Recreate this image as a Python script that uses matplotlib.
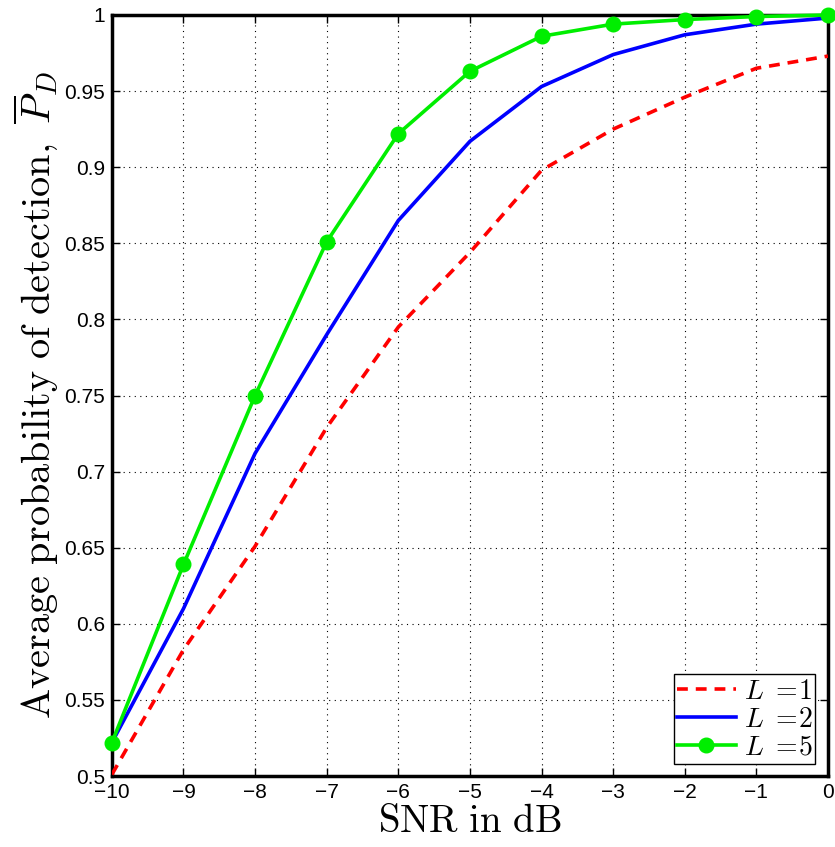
import matplotlib
matplotlib.use("Agg")
import matplotlib.pyplot as plt
import numpy as np

snr = [-10, -9, -8, -7, -6, -5, -4, -3, -2, -1, 0]
pd_L1 = [0.501, 0.583, 0.651, 0.729, 0.795, 0.844, 0.898, 0.925, 0.946, 0.965, 0.973]
pd_L2 = [0.522, 0.610, 0.712, 0.790, 0.865, 0.917, 0.953, 0.974, 0.987, 0.994, 0.998]
pd_L5 = [0.522, 0.639, 0.750, 0.851, 0.922, 0.963, 0.986, 0.994, 0.997, 0.999, 1.000]
xticks = list(range(-10, 1))
yticks = [0.5, 0.55, 0.6, 0.65, 0.7, 0.75, 0.8, 0.85, 0.9, 0.95, 1.0]
ytick_labels = ['0.5', '0.55', '0.6', '0.65', '0.7', '0.75', '0.8', '0.85', '0.9', '0.95', '1']

plt.rcParams['mathtext.fontset'] = 'cm'
fig = plt.figure(figsize=(8.35, 8.47), dpi=100)
ax = fig.add_axes([0.134, 0.0838, 0.8576, 0.8985])

ax.plot(snr, pd_L1, color='#ff0000', lw=2.6, ls=(0, (3, 2.2)), label=r'$L\ =\!1$', zorder=3)
ax.plot(snr, pd_L2, color='#0000ff', lw=2.6, label=r'$L\ =\!2$', zorder=3)
ax.plot(snr, pd_L5, color='#00ee00', lw=2.6, marker='o', markersize=10.5, label=r'$L\ =\!5$', zorder=4, clip_on=False)

ax.set_xlim(-10, 0)
ax.set_ylim(0.5, 1.0)
ax.set_xticks(xticks)
ax.set_xticklabels([('\u2212%d' % -t) if t < 0 else '%d' % t for t in xticks], fontfamily='Liberation Sans', fontsize=15)
ax.set_yticks(yticks)
ax.set_yticklabels(ytick_labels, fontfamily='Liberation Sans', fontsize=15)
ax.tick_params(direction='in', length=6, width=1, top=True, right=True, pad=5)
ax.grid(True, color='black', ls=(0, (1, 4)), lw=0.8)
for s in ax.spines.values():
    s.set_linewidth(2.5)

ax.set_xlabel(r'$\mathrm{SNR\ in\ dB}$', fontsize=28, labelpad=0)
ax.set_ylabel(r'$\mathrm{Average\ probability\ of\ detection,}\ \overline{P}_D$', fontsize=29, labelpad=2)

leg = ax.legend(loc='lower right', fontsize=20, handlelength=2.1, labelspacing=0.0,
                borderpad=0.1, handletextpad=0.3, borderaxespad=0.45, fancybox=False, framealpha=1)
leg.get_frame().set_edgecolor('black')
leg.get_frame().set_linewidth(1.0)

fig.savefig('out.png', dpi=100)
